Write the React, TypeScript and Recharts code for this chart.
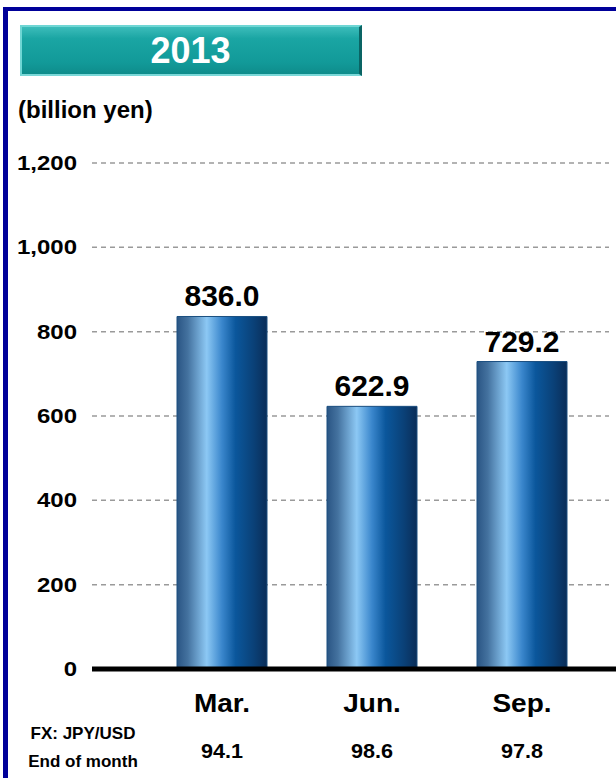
import React from 'react';
import { BarChart, Bar, XAxis, YAxis, CartesianGrid, LabelList } from 'recharts';

const categories = ['Mar.', 'Jun.', 'Sep.'];
const values = [836.0, 622.9, 729.2];
const fxRates = ['94.1', '98.6', '97.8'];
const yTicks = [0, 200, 400, 600, 800, 1000, 1200];
const titleText = '2013';
const unitText = '(billion yen)';
const fxLabel = ['FX: JPY/USD', 'End of month'];

const data = categories.map((c, i) => ({ month: c, value: values[i] }));

const FONT = '"Liberation Sans", Arial, Helvetica, sans-serif';

const stretch = (x: number, k: number) => `translate(${x},0) scale(${k},1) translate(${-x},0)`;

const XTick = (props: any) => {
  const { x, y, payload } = props;
  const i = payload.index;
  return (
    <g>
      <text
        x={x}
        y={y + 43}
        textAnchor="middle"
        fontSize={25}
        fontWeight={700}
        fill="#000"
        fontFamily={FONT}
        transform={stretch(x, 1.12)}
      >
        {payload.value}
      </text>
      <text
        x={x}
        y={y + 89}
        textAnchor="middle"
        fontSize={20}
        fontWeight={700}
        fill="#000"
        fontFamily={FONT}
        transform={stretch(x, 1.08)}
      >
        {fxRates[i]}
      </text>
    </g>
  );
};

const YTick = (props: any) => {
  const { x, y, payload } = props;
  return (
    <text
      x={x}
      y={y}
      dy="0.355em"
      textAnchor="end"
      fontSize={20}
      fontWeight={700}
      fill="#000"
      fontFamily={FONT}
      transform={stretch(x, 1.2)}
    >
      {Number(payload.value).toLocaleString('en-US')}
    </text>
  );
};

const gridLine = (props: any) => {
  const { x1, x2, y1, y2, key } = props;
  return (
    <line
      key={key}
      x1={x1}
      x2={x2 - 7}
      y1={y1}
      y2={y2}
      stroke="#9a9a9a"
      strokeWidth={1.5}
      strokeDasharray="5 4"
    />
  );
};

export default function App() {
  return (
    <div
      style={{
        position: 'absolute',
        left: 0,
        top: 0,
        width: 616,
        height: 778,
        background: '#fff',
        overflow: 'hidden',
        fontFamily: FONT,
      }}
    >
      <svg width={0} height={0} style={{ position: 'absolute' }}>
        <defs>
          <linearGradient id="barGrad" x1="0" y1="0" x2="1" y2="0">
            <stop offset="0%" stopColor="#2a5584" />
            <stop offset="12%" stopColor="#44729f" />
            <stop offset="33%" stopColor="#8cc8f4" />
            <stop offset="50%" stopColor="#3a86cc" />
            <stop offset="65%" stopColor="#0b579c" />
            <stop offset="85%" stopColor="#0a4178" />
            <stop offset="100%" stopColor="#0a2d58" />
          </linearGradient>
        </defs>
      </svg>
      {/* frame */}
      <div
        style={{
          position: 'absolute',
          left: 3,
          top: 7,
          width: 620,
          height: 780,
          borderLeft: '5px solid #000099',
          borderTop: '4px solid #000099',
          boxSizing: 'border-box',
        }}
      />
      <div style={{ position: 'absolute', left: 0, top: 0 }}>
        <BarChart width={616} height={778} data={data} margin={{ top: 163, right: 0, bottom: 0, left: 0 }}>
          <CartesianGrid vertical={false} horizontal={gridLine} />
          <XAxis
            dataKey="month"
            height={109}
            padding={{ left: 55, right: 19 }}
            axisLine={{ stroke: '#000', strokeWidth: 5 }}
            tickLine={false}
            tickSize={0}
            tickMargin={0}
            interval={0}
            tick={<XTick />}
          />
          <YAxis
            width={92}
            domain={[0, 1200]}
            ticks={yTicks}
            axisLine={false}
            tickLine={false}
            tickSize={0}
            tickMargin={15}
            interval={0}
            tick={<YTick />}
          />
          <Bar
            dataKey="value"
            barSize={90}
            fill="url(#barGrad)"
            stroke="#1b4f80"
            strokeWidth={1}
            isAnimationActive={false}
          >
            <LabelList
              dataKey="value"
              position="top"
              offset={10}
              formatter={(v: any) => Number(v).toFixed(1)}
              style={{ fontSize: 30, fontWeight: 700, fill: '#000', fontFamily: FONT }}
            />
          </Bar>
        </BarChart>
      </div>
      {/* title box */}
      <div
        style={{
          position: 'absolute',
          left: 20,
          top: 25,
          width: 342,
          height: 51,
          boxSizing: 'border-box',
          background: 'linear-gradient(to bottom, #3cbcba 0%, #1aa5a3 25%, #129a99 75%, #0e8c8b 100%)',
          borderTop: '2px solid #6fd6d4',
          borderLeft: '2px solid #6fd6d4',
          borderBottom: '2px solid #7ad8d8',
          borderRight: '3px solid #0a6464',
          display: 'flex',
          alignItems: 'center',
          justifyContent: 'center',
          color: '#fff',
          fontSize: 36,
          fontWeight: 700,
          lineHeight: '36px',
        }}
      >
        {titleText}
      </div>
      <div
        style={{
          position: 'absolute',
          left: 18,
          top: 98,
          fontSize: 24,
          fontWeight: 700,
          lineHeight: '24px',
          color: '#000',
          whiteSpace: 'nowrap',
        }}
      >
        {unitText}
      </div>
      <div
        style={{
          position: 'absolute',
          left: 10,
          top: 720,
          width: 146,
          textAlign: 'center',
          fontSize: 17,
          fontWeight: 700,
          lineHeight: '28px',
          color: '#000',
          whiteSpace: 'nowrap',
        }}
      >
        <div>{fxLabel[0]}</div>
        <div>{fxLabel[1]}</div>
      </div>
    </div>
  );
}
